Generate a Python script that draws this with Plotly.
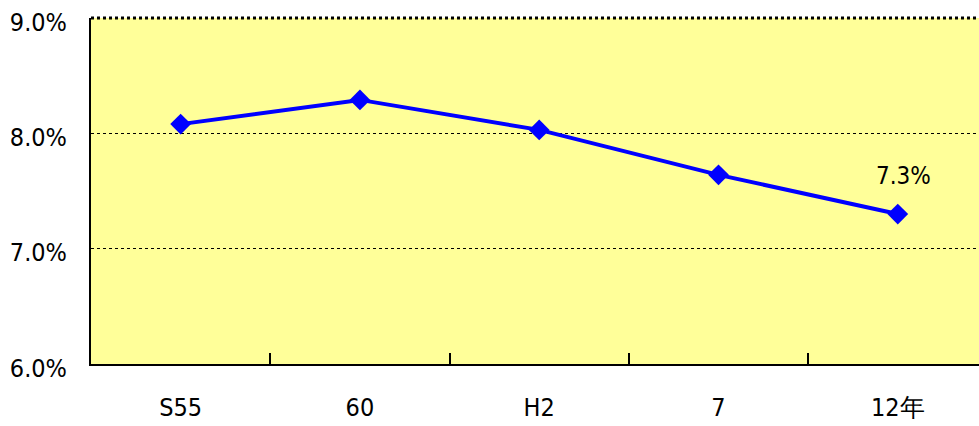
import plotly.graph_objects as go

# Survey years and rate (%)
years = ["S55", "60", "H2", "7", "12年"]
rates = [8.08, 8.29, 8.03, 7.64, 7.3]
y_ticks = [6.0, 7.0, 8.0, 9.0]

FONT = "Liberation Sans Narrow, DejaVu Sans Condensed, Liberation Sans, Arial, sans-serif"

fig = go.Figure()
fig.add_trace(go.Scatter(
    x=years, y=rates, mode="lines+markers",
    line=dict(color="#0000FF", width=4),
    marker=dict(symbol="diamond", size=16, color="#0000FF"),
    showlegend=False, hoverinfo="skip",
))

# Value label on the last point
fig.add_annotation(
    x=years[-1], y=rates[-1], text=f"{rates[-1]:.1f}%",
    showarrow=False, xshift=6, yshift=38,
    font=dict(family=FONT, size=24, color="#000000"),
)

# Heavy dashed top edge
fig.add_shape(type="line", xref="paper", yref="paper", x0=0, x1=1, y0=1, y1=1,
              line=dict(color="#000000", width=3, dash="dot"), layer="above")

fig.update_layout(
    width=979, height=426,
    margin=dict(l=91, r=0, t=18, b=62),
    paper_bgcolor="#FFFFFF",
    plot_bgcolor="#FFFF99",
    font=dict(family=FONT, size=25, color="#000000"),
    xaxis=dict(
        type="category", range=[-0.5, 4.453], automargin=False,
        tickson="boundaries", ticks="inside", ticklen=11, tickwidth=2, tickcolor="#000000",
        showgrid=False, showline=True, linecolor="#000000", linewidth=2,
        ticklabelstandoff=20, zeroline=False,
    ),
    yaxis=dict(
        range=[6.0, 9.0001], tickvals=y_ticks, ticktext=[f"{v:.1f}%" for v in y_ticks],
        automargin=False, ticklabeloverflow="allow",
        showgrid=True, gridcolor="#000000", gridwidth=1.2, griddash="dot",
        showline=True, linecolor="#000000", linewidth=2, ticks="",
        ticklabelstandoff=17, ticklabelshift=4, zeroline=False,
    ),
)

fig.write_html("out.html")
